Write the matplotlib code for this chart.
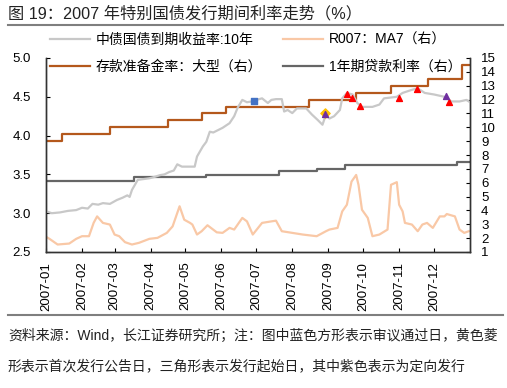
import numpy as np
import pandas as pd
import matplotlib
matplotlib.use('Agg')
import matplotlib.pyplot as plt
import matplotlib.dates as mdates
from matplotlib.lines import Line2D

plt.rcParams['font.family'] = ['Liberation Sans', 'Noto Sans CJK SC', 'DejaVu Sans']
plt.rcParams['axes.unicode_minus'] = False

# 中债国债到期收益率:10年 (左轴)
yld_dates = ['2007-01-02', '2007-01-06', '2007-01-13', '2007-01-20', '2007-01-27', '2007-02-01',
             '2007-02-06', '2007-02-10', '2007-02-15', '2007-02-19', '2007-02-25', '2007-03-03',
             '2007-03-08', '2007-03-12', '2007-03-14', '2007-03-16', '2007-03-21', '2007-03-26',
             '2007-03-31', '2007-04-05', '2007-04-09', '2007-04-13', '2007-04-17', '2007-04-21',
             '2007-04-24', '2007-04-28', '2007-05-03', '2007-05-09', '2007-05-11', '2007-05-16',
             '2007-05-19', '2007-05-22', '2007-05-25', '2007-05-29', '2007-06-02', '2007-06-08',
             '2007-06-12', '2007-06-15', '2007-06-19', '2007-06-23', '2007-06-27', '2007-07-01',
             '2007-07-06', '2007-07-11', '2007-07-14', '2007-07-18', '2007-07-23', '2007-07-25',
             '2007-07-28', '2007-08-01', '2007-08-05', '2007-08-13', '2007-08-18', '2007-08-23',
             '2007-08-27', '2007-08-30', '2007-09-02', '2007-09-06', '2007-09-11', '2007-09-13',
             '2007-09-17', '2007-09-22', '2007-09-26', '2007-09-30', '2007-10-09', '2007-10-15',
             '2007-10-19', '2007-10-30', '2007-11-04', '2007-11-12', '2007-11-17', '2007-11-23',
             '2007-12-01', '2007-12-10', '2007-12-16', '2007-12-23', '2007-12-29', '2007-12-31']
yld_vals = [3.02, 3.00, 3.01, 3.03, 3.04, 3.07, 3.06, 3.12, 3.11, 3.13, 3.12, 3.17,
            3.20, 3.23, 3.21, 3.30, 3.43, 3.44, 3.45, 3.47, 3.49, 3.50, 3.53, 3.55,
            3.63, 3.60, 3.60, 3.60, 3.73, 3.86, 3.92, 4.05, 4.04, 4.07, 4.10, 4.16,
            4.25, 4.36, 4.46, 4.43, 4.44, 4.46, 4.48, 4.42, 4.46, 4.47, 4.47, 4.31,
            4.33, 4.29, 4.35, 4.35, 4.27, 4.20, 4.14, 4.27, 4.22, 4.25, 4.33, 4.48,
            4.55, 4.53, 4.42, 4.37, 4.37, 4.40, 4.48, 4.50, 4.55, 4.59, 4.61, 4.55,
            4.53, 4.50, 4.44, 4.44, 4.46, 4.44]

# R007:MA7 (右轴)
r007_dates = ['2007-01-02', '2007-01-04', '2007-01-11', '2007-01-21', '2007-01-27', '2007-02-01',
              '2007-02-07', '2007-02-11', '2007-02-14', '2007-02-19', '2007-02-25', '2007-03-01',
              '2007-03-05', '2007-03-10', '2007-03-16', '2007-03-22', '2007-03-31', '2007-04-07',
              '2007-04-15', '2007-04-20', '2007-04-26', '2007-04-30', '2007-05-05', '2007-05-07',
              '2007-05-11', '2007-05-15', '2007-05-20', '2007-05-28', '2007-06-02', '2007-06-08',
              '2007-06-12', '2007-06-19', '2007-06-23', '2007-06-28', '2007-07-06', '2007-07-14',
              '2007-07-18', '2007-07-23', '2007-08-01', '2007-08-10', '2007-08-22', '2007-08-30',
              '2007-09-02', '2007-09-09', '2007-09-13', '2007-09-17', '2007-09-21', '2007-09-25',
              '2007-09-27', '2007-09-30', '2007-10-05', '2007-10-09', '2007-10-15', '2007-10-22',
              '2007-10-25', '2007-10-30', '2007-11-01', '2007-11-04', '2007-11-06', '2007-11-12',
              '2007-11-17', '2007-11-21', '2007-11-25', '2007-11-30', '2007-12-06', '2007-12-10',
              '2007-12-12', '2007-12-19', '2007-12-23', '2007-12-27', '2007-12-31']
r007_vals = [2.05, 1.95, 1.54, 1.61, 1.95, 2.14, 2.14, 3.10, 3.57, 3.10, 2.98, 2.26,
             2.14, 1.71, 1.54, 1.66, 1.95, 2.02, 2.38, 2.85, 4.30, 3.33, 3.10, 2.98,
             2.26, 2.50, 2.93, 2.42, 2.38, 2.74, 2.62, 3.46, 3.21, 2.26, 3.10, 3.21,
             3.26, 2.50, 2.38, 2.26, 2.14, 2.50, 2.62, 2.74, 3.93, 4.41, 6.08, 6.56,
             5.85, 4.05, 3.46, 2.14, 2.26, 2.62, 5.85, 6.04, 4.41, 3.93, 3.10, 2.98,
             2.50, 2.98, 3.10, 2.74, 3.57, 3.57, 3.74, 3.57, 2.62, 2.38, 2.50]

# 存款准备金率:大型 (右轴)
rrr_dates = ['2007-01-01', '2007-01-15', '2007-02-25', '2007-04-16', '2007-05-15', '2007-06-05',
             '2007-08-15', '2007-09-25', '2007-10-25', '2007-11-26', '2007-12-25', '2007-12-31']
rrr_vals = [9.0, 9.5, 10.0, 10.5, 11.0, 11.5, 12.0, 12.5, 13.0, 13.5, 14.5, 14.5]

# 1年期贷款利率 (右轴)
loan_dates = ['2007-01-01', '2007-03-18', '2007-05-19', '2007-07-21', '2007-08-22', '2007-09-15',
              '2007-12-21', '2007-12-31']
loan_vals = [6.12, 6.39, 6.57, 6.84, 7.02, 7.29, 7.47, 7.47]

# 标记点 (左轴)
sq_dates = ['2007-06-29']
sq_vals = [4.45]
dia_dates = ['2007-08-29']
dia_vals = [4.29]
red_dates = ['2007-09-17', '2007-09-21', '2007-09-28', '2007-11-01', '2007-11-16', '2007-12-14']
red_vals = [4.54, 4.49, 4.38, 4.49, 4.60, 4.43]
pur_dates = ['2007-08-29', '2007-12-11']
pur_vals = [4.28, 4.51]

c_yld = '#c8c8c8'
c_r007 = '#f9c8a6'
c_rrr = '#b4581c'
c_loan = '#666666'

fig = plt.figure(figsize=(5.07, 3.88), dpi=100)
ax = fig.add_axes([46 / 507, 1 - 252 / 388, 424 / 507, 194 / 388])
ax2 = ax.twinx()

ax2.plot(pd.to_datetime(r007_dates), r007_vals, color=c_r007, lw=1.6)
ax2.plot(pd.to_datetime(rrr_dates), rrr_vals, color=c_rrr, lw=1.6, drawstyle='steps-post')
ax2.plot(pd.to_datetime(loan_dates), loan_vals, color=c_loan, lw=1.6, drawstyle='steps-post')

ax.plot(pd.to_datetime(yld_dates), yld_vals, color=c_yld, lw=1.6)
ax.scatter(pd.to_datetime(sq_dates), sq_vals, marker='s', s=16, color='#4472c4', zorder=5)
ax.scatter(pd.to_datetime(dia_dates), dia_vals, marker='D', s=22, color='#ffc000', zorder=5)
ax.scatter(pd.to_datetime(red_dates), red_vals, marker='^', s=18, color='#ff0000', zorder=6)
ax.scatter(pd.to_datetime(pur_dates), pur_vals, marker='^', s=18, color='#7030a0', zorder=6)

ax.set_zorder(ax2.get_zorder() + 1)
ax.patch.set_visible(False)

ax.set_ylim(2.5, 5.0)
ax.set_yticks(np.arange(2.5, 5.01, 0.5))
ax.yaxis.set_major_formatter(plt.FormatStrFormatter('%.1f'))
ax2.set_ylim(1, 15)
ax2.set_yticks(range(1, 16))
ax.set_xlim(pd.Timestamp('2007-01-01'), pd.Timestamp('2008-01-01'))
ax.xaxis.set_major_locator(mdates.MonthLocator())
ax.xaxis.set_major_formatter(mdates.DateFormatter('%Y-%m'))
ax.set_xticks(pd.date_range('2007-01-01', '2007-12-01', freq='MS'))

for a in (ax, ax2):
    a.spines['top'].set_visible(False)
    for s in a.spines.values():
        s.set_color('#333333')
        s.set_linewidth(1.0)
ax.tick_params(axis='y', direction='in', length=3, pad=11, labelsize=9.5)
ax.tick_params(axis='x', direction='in', length=3, pad=7, labelsize=9.5, labelrotation=90)
ax2.tick_params(axis='y', direction='in', length=3, pad=8, labelsize=9.5)

handles = [Line2D([], [], color=c_yld, lw=1.6), Line2D([], [], color=c_rrr, lw=1.6),
           Line2D([], [], color=c_r007, lw=1.6), Line2D([], [], color=c_loan, lw=1.6)]
labels = ['中债国债到期收益率:10年', '存款准备金率：大型（右）', 'R007：MA7（右）', '1年期贷款利率（右）']
ax.legend(handles, labels, ncol=2, loc='upper left', bbox_to_anchor=(50 / 507, 1 - 33 / 388),
          bbox_transform=fig.transFigure, frameon=False, fontsize=10, handlelength=2.9,
          handletextpad=0.4, columnspacing=1.5, labelspacing=0.9, borderpad=0, borderaxespad=0)

fig.text(8 / 507, 1 - 13.5 / 388, '图 19：2007 年特别国债发行期间利率走势（%）', fontsize=11.7,
         va='center', ha='left', color='#222222')
fig.add_artist(Line2D([8 / 507, 503 / 507], [1 - 25 / 388, 1 - 25 / 388], color='#7f7f7f', lw=1.5))
fig.add_artist(Line2D([8 / 507, 503 / 507], [1 - 315 / 388, 1 - 315 / 388], color='#7f7f7f', lw=1.5))
fig.text(8 / 507, 1 - 336 / 388, '资料来源：Wind，长江证券研究所；注：图中蓝色方形表示审议通过日，黄色菱',
         fontsize=10, va='center', ha='left', color='#222222')
fig.text(8 / 507, 1 - 366 / 388, '形表示首次发行公告日，三角形表示发行起始日，其中紫色表示为定向发行',
         fontsize=10, va='center', ha='left', color='#222222')

fig.savefig('out.png', dpi=100)
